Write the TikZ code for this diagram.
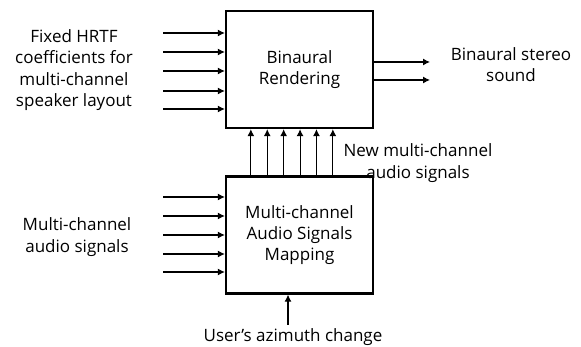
\documentclass[tikz,border=0pt]{standalone}
\usepackage{fontspec}
\setmainfont{Open Sans}
\usetikzlibrary{positioning,arrows.meta}

\begin{document}
\begin{tikzpicture}[x=1pt, y=-1pt, font=\fontsize{17}{21.3}\selectfont,
    block/.style={draw, line width=2.3pt, minimum width=147pt, minimum height=117pt, align=center, inner sep=0pt},
    sig/.style={-{Latex[length=7pt, width=7pt]}, line width=1.1pt},
    lbl/.style={align=center, inner sep=0pt}]
    \useasboundingbox (0,0) rectangle (581,347);
         % the two blocks
         \node[block] (rend) at (299.5,69.5) {Binaural\\Rendering};
         \node[block] (map) at (299.5,235) {Multi-channel\\Audio Signals\\Mapping};
         % labels
         \node[lbl] (hrtf) at (74,70) {Fixed HRTF\\coefficients for\\multi-channel\\speaker layout};
         \node[lbl] (mcin) at (77,237) {Multi-channel\\audio signals};
         \node[lbl] (stereo) at (511,64.5) {Binaural stereo\\sound};
         \node[lbl] (newmc) at (418,163) {New multi-channel\\audio signals};
         \node[lbl] (user) at (293,337) {User's azimuth change};
         % inputs of the rendering block
         \foreach \y [count=\i] in {33,52,71,91,109}{\coordinate (hin\i) at (163,\y); \draw[sig] (hin\i) -- (hin\i -| rend.west);}
         % inputs of the mapping block
         \foreach \y [count=\i] in {197,216,235,254,272}{\coordinate (min\i) at (163,\y); \draw[sig] (min\i) -- (min\i -| map.west);}
         % new channels from mapping to rendering
         \foreach \dx in {26,42.4,58.8,75.2,91.6,108}\draw[sig] ([xshift=\dx pt]map.north west) -- ([xshift=\dx pt]rend.south west);
         % binaural outputs
         \foreach \y [count=\i] in {62,80}{\coordinate (out\i) at (430,\y); \draw[sig] (out\i -| rend.east) -- (out\i);}
         % azimuth control
         \coordinate (az) at (288,325);
         \draw[sig] (az) -- (az |- map.south);
\end{tikzpicture}
\end{document}
